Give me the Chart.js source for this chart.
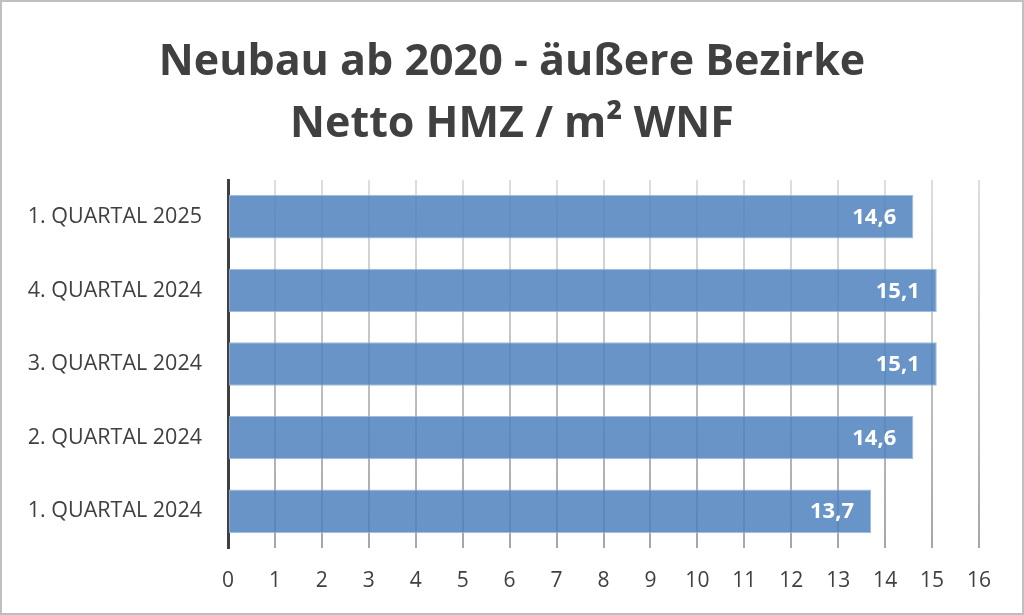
<!DOCTYPE html>
<html>
<head>
<meta charset="utf-8">
<script src="https://cdn.jsdelivr.net/npm/chart.js@4"></script>
<style>
  html, body { margin: 0; padding: 0; background: #fff; }
  #wrap { width: 1024px; height: 615px; position: relative; }
</style>
</head>
<body>
<div id="wrap"><canvas id="chart" width="1024" height="615"></canvas></div>
<script>
// Neubau ab 2020 - äußere Bezirke, Netto HMZ / m² WNF

const titleLines = ['Neubau ab 2020 - äußere Bezirke', 'Netto HMZ / m² WNF'];
const quartale = ['1. QUARTAL 2025', '4. QUARTAL 2024', '3. QUARTAL 2024', '2. QUARTAL 2024', '1. QUARTAL 2024'];
const hmzWerte = [14.6, 15.1, 15.1, 14.6, 13.7];
const xMin = 0;
const xMax = 16;

const FONT = "'Open Sans', 'Noto Sans', sans-serif";

// Rahmen um das Diagramm + Titel über die ganze Breite zentriert
const rahmenPlugin = {
  id: 'rahmen',
  beforeDraw(chart) {
    const ctx = chart.ctx;
    ctx.save();
    ctx.fillStyle = '#ffffff';
    ctx.fillRect(0, 0, chart.width, chart.height);
    ctx.strokeStyle = '#bfbfbf';
    ctx.lineWidth = 2;
    ctx.strokeRect(1, 1, chart.width - 2, chart.height - 2);
    ctx.restore();
  },
  afterDraw(chart) {
    const ctx = chart.ctx;
    ctx.save();
    ctx.fillStyle = '#404040';
    ctx.font = 'bold 43px ' + FONT;
    ctx.textAlign = 'center';
    ctx.textBaseline = 'middle';
    titleLines.forEach((line, i) => {
      ctx.fillText(line, chart.width / 2, 63 + i * 62);
    });
    ctx.restore();
  }
};

// Werte in die Balken schreiben (deutsches Komma)
const wertePlugin = {
  id: 'werte',
  afterDatasetsDraw(chart) {
    const ctx = chart.ctx;
    const meta = chart.getDatasetMeta(0);
    ctx.save();
    ctx.fillStyle = '#ffffff';
    ctx.font = 'bold 22px ' + FONT;
    ctx.textAlign = 'right';
    ctx.textBaseline = 'middle';
    meta.data.forEach((bar, i) => {
      const text = hmzWerte[i].toFixed(1).replace('.', ',');
      ctx.fillText(text, bar.x - 17, bar.y + 1);
    });
    ctx.restore();
  }
};

function gridColor(context) {
  const chart = context.chart;
  const area = chart.chartArea;
  if (!area) return '#bfbfbf';
  const g = chart.ctx.createLinearGradient(0, area.top, 0, area.bottom);
  g.addColorStop(0, '#dedede');
  g.addColorStop(1, '#a6a6a6');
  return g;
}

const ctx = document.getElementById('chart').getContext('2d');
new Chart(ctx, {
  type: 'bar',
  data: {
    labels: quartale,
    datasets: [{
      label: 'Netto HMZ / m² WNF',
      data: hmzWerte,
      backgroundColor: 'rgba(79, 129, 189, 0.85)',
      borderColor: 'rgba(150, 182, 222, 0.9)',
      borderWidth: 1,
      borderSkipped: false,
      barPercentage: 0.59,
      categoryPercentage: 1.0
    }]
  },
  options: {
    indexAxis: 'y',
    responsive: false,
    animation: false,
    layout: {
      padding: { left: 0, right: 45, top: 180, bottom: 0 }
    },
    plugins: {
      legend: { display: false },
      tooltip: { enabled: false },
      title: { display: false }
    },
    scales: {
      x: {
        type: 'linear',
        min: xMin,
        max: xMax,
        ticks: {
          stepSize: 1,
          color: '#404040',
          padding: 20,
          font: { family: FONT, size: 21 }
        },
        grid: {
          color: gridColor,
          lineWidth: 2,
          drawTicks: false
        },
        border: { display: false },
        afterFit(scale) { scale.height = 67; }
      },
      y: {
        ticks: {
          color: '#404040',
          padding: 26,
          font: { family: FONT, size: 21.5 }
        },
        grid: { display: false, drawTicks: false },
        border: { display: true, color: '#404040', width: 3 },
        afterFit(scale) { scale.width = 228; }
      }
    }
  },
  plugins: [rahmenPlugin, wertePlugin]
});
</script>
</body>
</html>
